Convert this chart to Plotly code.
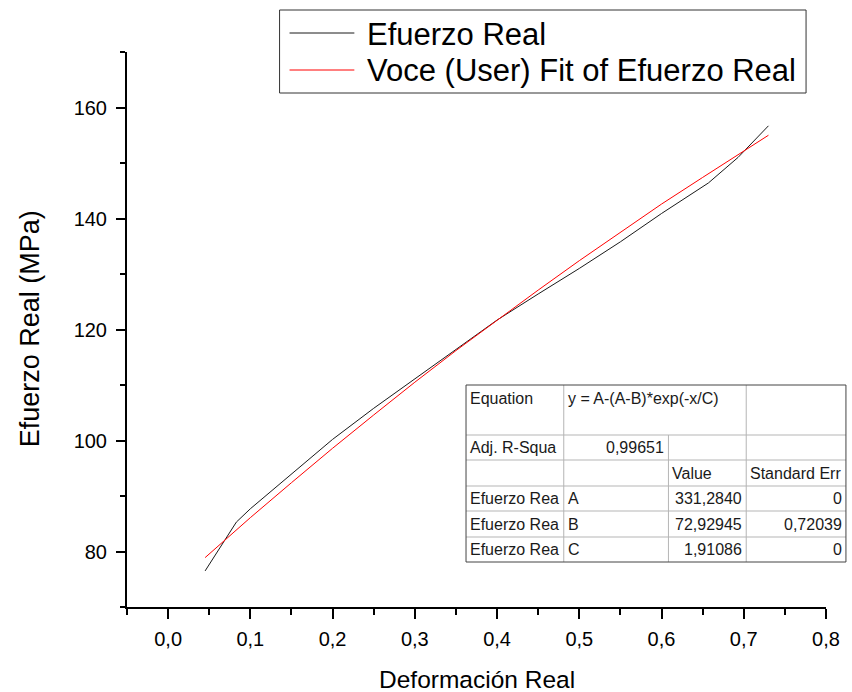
import plotly.graph_objects as go

# ---- data ----
strain_real = [0.045, 0.083, 0.10, 0.15, 0.20, 0.25, 0.30, 0.35, 0.40, 0.45,
               0.50, 0.55, 0.60, 0.657, 0.693, 0.73]
stress_real = [76.5, 85.3, 87.7, 93.9, 100.2, 105.8, 111.1, 116.4, 121.7, 126.4,
               131.0, 135.8, 140.9, 146.4, 151.0, 156.7]

strain_fit = [0.045, 0.10, 0.15, 0.20, 0.25, 0.30, 0.35, 0.40, 0.45, 0.50,
              0.55, 0.60, 0.65, 0.70, 0.73]
stress_fit = [78.9, 86.1, 92.4, 98.6, 104.6, 110.5, 116.2, 121.7, 127.1, 132.4,
              137.5, 142.6, 147.4, 152.2, 155.0]

legend_names = ["Efuerzo Real", "Voce (User) Fit of Efuerzo Real"]

table_rows = [
    ["Equation", "y = A-(A-B)*exp(-x/C)", "", ""],
    ["Adj. R-Squa", "0,99651", "", ""],
    ["", "", "Value", "Standard Err"],
    ["Efuerzo Rea", "A", "331,2840", "0"],
    ["Efuerzo Rea", "B", "72,92945", "0,72039"],
    ["Efuerzo Rea", "C", "1,91086", "0"],
]

FONT = "Liberation Sans, Arial, sans-serif"
W, H = 852, 692
L, R, T, B = 127, 828, 52, 607


def px(x):
    return (x - L) / (R - L)


def py(y):
    return (B - y) / (B - T)


fig = go.Figure()
fig.add_trace(go.Scatter(x=strain_real, y=stress_real, mode="lines",
                         line=dict(color="#1a1a1a", width=1), name=legend_names[0],
                         showlegend=False))
fig.add_trace(go.Scatter(x=strain_fit, y=stress_fit, mode="lines",
                         line=dict(color="#ff0000", width=1), name=legend_names[1],
                         showlegend=False))

shapes = []
annotations = []

# ---- legend (drawn manually) ----
shapes.append(dict(type="rect", xref="paper", yref="paper",
                   x0=px(280), x1=px(808), y0=py(93), y1=py(10),
                   line=dict(color="#333333", width=1), fillcolor="white"))
for i, (yy, col) in enumerate([(33, "#1a1a1a"), (70, "#ff0000")]):
    shapes.append(dict(type="line", xref="paper", yref="paper",
                       x0=px(290), x1=px(355), y0=py(yy), y1=py(yy),
                       line=dict(color=col, width=1)))
    annotations.append(dict(xref="paper", yref="paper", x=px(366), y=py(yy + 1),
                            xanchor="left", yanchor="middle", showarrow=False,
                            text=legend_names[i],
                            font=dict(family=FONT, size=31, color="black")))

# ---- fit table ----
cols = [467, 565, 670, 748, 848]
rows = [385, 435, 460, 486, 511, 537, 562]
inner = "#b5b5b5"
for yy in rows[1:-1]:
    shapes.append(dict(type="line", xref="paper", yref="paper",
                       x0=px(cols[0]), x1=px(cols[-1]), y0=py(yy), y1=py(yy),
                       line=dict(color=inner, width=1)))
shapes.append(dict(type="line", xref="paper", yref="paper",
                   x0=px(cols[1]), x1=px(cols[1]), y0=py(rows[0]), y1=py(rows[-1]),
                   line=dict(color=inner, width=1)))
shapes.append(dict(type="line", xref="paper", yref="paper",
                   x0=px(cols[2]), x1=px(cols[2]), y0=py(rows[1]), y1=py(rows[-1]),
                   line=dict(color=inner, width=1)))
shapes.append(dict(type="line", xref="paper", yref="paper",
                   x0=px(cols[3]), x1=px(cols[3]), y0=py(rows[0]), y1=py(rows[-1]),
                   line=dict(color=inner, width=1)))
shapes.append(dict(type="rect", xref="paper", yref="paper",
                   x0=px(cols[0]), x1=px(cols[-1]), y0=py(rows[-1]), y1=py(rows[0]),
                   line=dict(color="#444444", width=1)))

for r, row in enumerate(table_rows):
    yc = (rows[r] + rows[r + 1]) / 2 if r > 0 else rows[0] + 13
    for c, txt in enumerate(row):
        if not txt:
            continue
        right_align = (c >= 2 and r >= 3) or (r == 1 and c == 1)
        if right_align:
            x = px(cols[c + 1] - 2)
            anchor = "right"
        else:
            x = px(cols[c] + 2)
            anchor = "left"
        annotations.append(dict(xref="paper", yref="paper", x=x, y=py(yc),
                                xanchor=anchor, yanchor="middle", showarrow=False,
                                text=txt,
                                font=dict(family=FONT, size=16, color="#1a1a1a")))

# ---- axis titles ----
annotations.append(dict(xref="paper", yref="paper", x=px(30), y=py(329),
                        xanchor="center", yanchor="middle", showarrow=False,
                        textangle=-90, text="Efuerzo Real (MPa)",
                        font=dict(family=FONT, size=27, color="black")))
annotations.append(dict(xref="paper", yref="paper", x=px(478), y=py(679),
                        xanchor="center", yanchor="middle", showarrow=False,
                        text="Deformación Real",
                        font=dict(family=FONT, size=24.5, color="black")))

fig.update_layout(
    width=W, height=H,
    margin=dict(l=L, r=W - R, t=T, b=H - B),
    paper_bgcolor="white", plot_bgcolor="white",
    separators=",.",
    shapes=shapes, annotations=annotations,
    showlegend=False,
    xaxis=dict(range=[-0.05, 0.8], tick0=0, dtick=0.1, tickformat=".1f",
               showgrid=False, zeroline=False, showline=True, linecolor="black",
               linewidth=2, ticks="outside", ticklen=10, tickwidth=2,
               tickcolor="black", ticklabelstandoff=3,
               minor=dict(dtick=0.05, tick0=0, ticks="outside", ticklen=6,
                          tickwidth=2, tickcolor="black", showgrid=False),
               tickfont=dict(family=FONT, size=20, color="black")),
    yaxis=dict(range=[70, 170], tick0=0, dtick=20,
               showgrid=False, zeroline=False, showline=True, linecolor="black",
               linewidth=2, ticks="outside", ticklen=9, tickwidth=2,
               tickcolor="black", ticklabelstandoff=5,
               minor=dict(dtick=10, tick0=0, ticks="outside", ticklen=5,
                          tickwidth=2, tickcolor="black", showgrid=False),
               tickfont=dict(family=FONT, size=20, color="black")),
)

fig.write_html("out.html", config={"displayModeBar": False},
               post_script="document.body.style.margin='0';document.body.style.padding='0';")
